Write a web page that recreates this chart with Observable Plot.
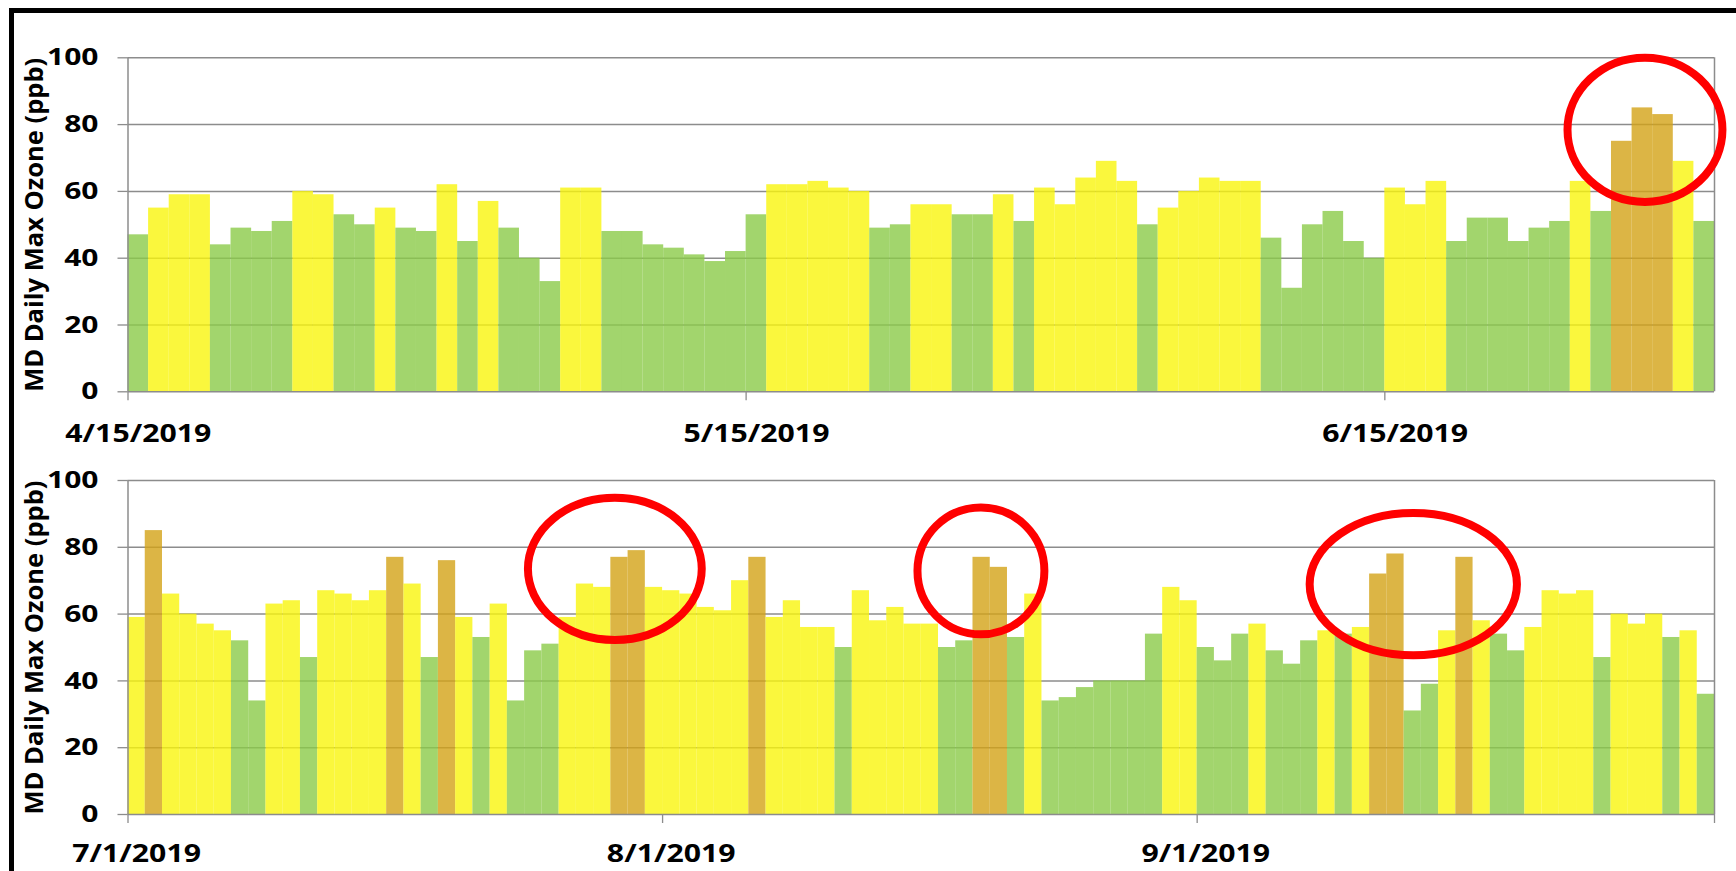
<!DOCTYPE html>
<html>
<head>
<meta charset="utf-8">
<script src="https://cdn.jsdelivr.net/npm/d3@7"></script>
<script src="https://cdn.jsdelivr.net/npm/@observablehq/plot@0.6"></script>
<style>
html, body { margin: 0; padding: 0; background: #fff; }
#wrap { position: relative; width: 1736px; height: 871px; overflow: hidden; background: #fff; }
.panel { position: absolute; left: 0; }
#frame { position: absolute; left: 8.5px; top: 7.5px; right: -20px; bottom: -20px;
         border-top: 5px solid #000; border-left: 5px solid #000; pointer-events: none; }
</style>
</head>
<body>
<div id="wrap">
  <div id="p1" class="panel" style="top:0px"></div>
  <div id="p2" class="panel" style="top:450px"></div>
  <div id="frame"></div>
</div>
<script>
// ---------- data ----------
const Y_TITLE = "MD Daily Max Ozone (ppb)";
const yTicks = [0, 20, 40, 60, 80, 100];

// Panel 1: 4/15/2019 .. 6/30/2019 (one value per day)
const topStart = "2019-04-15";
const topEnd = "2019-07-01";
const topValues = [
  47, 55, 59, 59, 44, 49, 48, 51, 60, 59,
  53, 50, 55, 49, 48, 62, 45, 57, 49, 40,
  33, 61, 61, 48, 48, 44, 43, 41, 39, 42,
  53, 62, 62, 63, 61, 60, 49, 50, 56, 56,
  53, 53, 59, 51, 61, 56, 64, 69, 63, 50,
  55, 60, 64, 63, 63, 46, 31, 50, 54, 45,
  40, 61, 56, 63, 45, 52, 52, 45, 49, 51,
  63, 54, 75, 85, 83, 69, 51
];
const topTickDates = ["2019-04-15", "2019-05-15", "2019-06-15"];
const topTickLabels = ["4/15/2019", "5/15/2019", "6/15/2019"];

// Panel 2: 7/1/2019 .. 9/30/2019
const botStart = "2019-07-01";
const botEnd = "2019-10-01";
const botValues = [
  59, 85, 66, 60, 57, 55, 52, 34, 63, 64,
  47, 67, 66, 64, 67, 77, 69, 47, 76, 59,
  53, 63, 34, 49, 51, 59, 69, 68, 77, 79,
  68, 67, 66, 62, 61, 70, 77, 59, 64, 56,
  56, 50, 67, 58, 62, 57, 57, 50, 52, 77,
  74, 53, 66, 34, 35, 38, 40, 40, 40, 54,
  68, 64, 50, 46, 54, 57, 49, 45, 52, 55,
  54, 56, 72, 78, 31, 39, 55, 77, 58, 54,
  49, 56, 67, 66, 67, 47, 60, 57, 60, 53,
  55, 36
];
const botTickDates = ["2019-07-01", "2019-08-01", "2019-09-01", "2019-10-01"];
const botTickLabels = ["7/1/2019", "8/1/2019", "9/1/2019", ""];

// AQI categories (ppb thresholds) and colours
const categoryBreaks = [55, 71];
const categoryColors = ["#8bca48", "#f9f50d", "#d3a216"];

// Red highlight ellipses (centre date, centre value, half-width in days, half-height in ppb)
const topCircleDates = ["2019-06-27T15:36Z"];
const topCircleValues = [78.3];
const topCircleDays = [3.76];
const topCirclePpb = [21.6];
const botCircleDates = ["2019-07-29T06:15Z", "2019-08-19T11:45Z", "2019-09-13T13:30Z"];
const botCircleValues = [73.4, 72.8, 68.8];
const botCircleDays = [5.04, 3.68, 6.01];
const botCirclePpb = [21.3, 19.0, 21.3];

// ---------- drawing ----------
const GRID = "#8c8c8c";
const FONT = "'Open Sans', 'DejaVu Sans', sans-serif";
const Y_STRETCH = 1.25;
const X_STRETCH = 1.21;

function ellipseMark(dates, values, days, ppb) {
  return function(index, scales) {
    const sc = (scales && scales.x) ? scales : index;
    const sx = sc.x, sy = sc.y;
    const g = d3.create("svg:g").attr("aria-label", "highlight");
    dates.forEach((ds, i) => {
      const c = new Date(ds);
      const cx = sx(c), cy = sy(values[i]);
      const rx = sx(new Date(+c + days[i] * 864e5)) - cx;
      const ry = sy(values[i] - ppb[i]) - cy;
      g.append("ellipse")
        .attr("cx", cx).attr("cy", cy).attr("rx", rx).attr("ry", ry)
        .attr("fill", "none").attr("stroke", "#ff0000").attr("stroke-width", 8);
    });
    return g.node();
  };
}

function stretchText(t, k) {
  const tr = t.getAttribute("transform");
  if (tr) {
    t.setAttribute("transform", tr + ` scale(${k},1)`);
  } else {
    const x = +t.getAttribute("x") || 0, y = +t.getAttribute("y") || 0;
    t.removeAttribute("x"); t.removeAttribute("y");
    t.setAttribute("transform", `translate(${x},${y}) scale(${k},1)`);
  }
}

function panel(opts) {
  const s = new Date(opts.start), e = new Date(opts.end);
  const dates = d3.utcDay.range(s, e);
  const data = dates.map((d, i) => ({date: d, value: opts.values[i]}));
  const ticks = opts.tickDates.map(t => new Date(t));
  const labelData = ticks.map((t, i) => ({date: t, label: opts.tickLabels[i]}));
  const width = 1736, marginLeft = 127.5, marginRight = 22;

  const svg = Plot.plot({
    width, height: opts.height,
    marginTop: opts.marginTop, marginBottom: opts.marginBottom,
    marginLeft, marginRight,
    style: {fontFamily: FONT, fontWeight: "bold", color: "#000", background: "none", overflow: "visible"},
    x: {type: "utc", domain: [s, e], axis: null},
    y: {domain: [0, 100], axis: null},
    color: {type: "threshold", domain: categoryBreaks, range: categoryColors},
    marks: [
      Plot.ruleY(yTicks.slice(1), {stroke: GRID, strokeWidth: 1.5}),
      Plot.rectY(data, {
        x1: "date",
        x2: d => d3.utcDay.offset(d.date, 1),
        y: "value",
        fill: "value",
        fillOpacity: 0.8
      }),
      Plot.ruleY([0], {stroke: GRID, strokeWidth: 1.5}),
      Plot.ruleX([s, e], {stroke: GRID, strokeWidth: 1.5}),
      Plot.axisY({ticks: yTicks, tickSize: 10, tickPadding: 19.5, stroke: GRID, fill: "#000",
                  fontSize: 24, label: null, strokeWidth: 1.3}),
      Plot.axisX({ticks, tickSize: 9, tickFormat: () => "", stroke: GRID, label: null, strokeWidth: 1.3}),
      Plot.text(labelData, {
        x: d => d3.utcHour.offset(d.date, 12),
        text: "label",
        frameAnchor: "bottom",
        textAnchor: "middle",
        lineAnchor: "top",
        dy: opts.labelDy,
        fontSize: 25,
        fill: "#000"
      }),
      Plot.text([Y_TITLE], {
        text: d => d,
        frameAnchor: "left",
        textAnchor: "middle",
        lineAnchor: "middle",
        rotate: -90,
        dx: -93.5,
        dy: 0,
        fontSize: 25.5,
        fill: "#000"
      }),
      ellipseMark(opts.circleDates, opts.circleValues, opts.circleDays, opts.circlePpb)
    ]
  });

  // reference glyphs are horizontally wider than the font: stretch tick labels
  svg.querySelectorAll("text").forEach(t => {
    const str = t.textContent.trim();
    if (/^\d+$/.test(str)) stretchText(t, Y_STRETCH);
    else if (/\/2019$/.test(str)) stretchText(t, X_STRETCH);
  });
  return svg;
}

document.getElementById("p1").appendChild(panel({
  start: topStart, end: topEnd, values: topValues,
  tickDates: topTickDates, tickLabels: topTickLabels,
  height: 450, marginTop: 57.3, marginBottom: 58.7, labelDy: 32,
  circleDates: topCircleDates, circleValues: topCircleValues,
  circleDays: topCircleDays, circlePpb: topCirclePpb
}));

document.getElementById("p2").appendChild(panel({
  start: botStart, end: botEnd, values: botValues,
  tickDates: botTickDates, tickLabels: botTickLabels,
  height: 421, marginTop: 30, marginBottom: 57, labelDy: 30,
  circleDates: botCircleDates, circleValues: botCircleValues,
  circleDays: botCircleDays, circlePpb: botCirclePpb
}));
</script>
</body>
</html>
